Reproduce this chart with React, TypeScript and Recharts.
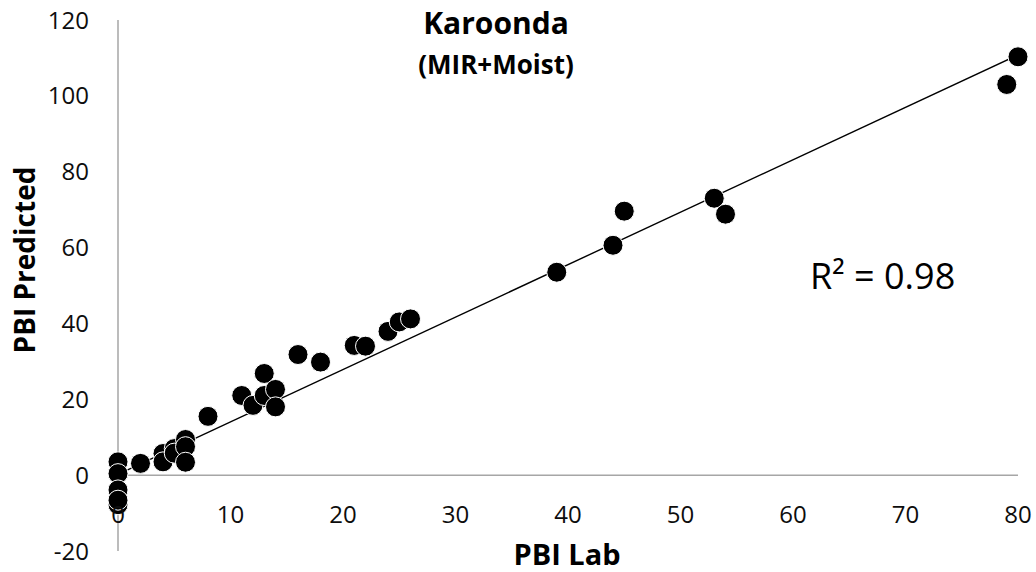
import React from "react"
import { ScatterChart, Scatter, XAxis, YAxis, ReferenceLine } from "recharts"

// PBI measured in the lab vs PBI predicted (MIR + moisture model)
const labPbi = [0, 0, 0, 0, 0, 2, 4, 4, 5, 5, 6, 6, 6, 8, 11, 12, 13, 13, 14, 14, 16, 18, 21, 22, 24, 25, 26, 39, 44, 45, 53, 54, 79, 80]
const predictedPbi = [3.5, 0.4, -3.9, -7.8, -6.6, 3.1, 5.7, 3.5, 7, 5.8, 9.4, 7.5, 3.4, 15.5, 21, 18.4, 21, 26.8, 22.6, 18, 31.8, 29.8, 34.2, 34, 37.9, 40.4, 41.2, 53.5, 60.6, 69.6, 73, 68.8, 103, 110.3]

// fitted trend line, read at both ends of the data range
const trendX = [0, 80]
const trendY = [0.2, 110.8]

const xTicks = [0, 10, 20, 30, 40, 50, 60, 70, 80]
const yTicks = [-20, 0, 20, 40, 60, 80, 100, 120]

const FONT = "'Open Sans', sans-serif"
const AXIS_GREY = "#a6a6a6"

const points = labPbi.map((x, i) => ({ x, y: predictedPbi[i] }))
const trend = trendX.map((x, i) => ({ x, y: trendY[i] }))

const Dot = (props: any) => (
	<circle cx={props.cx} cy={props.cy} r={10} fill="#000" stroke="#fff" strokeWidth={1} />
)

const App: React.FC = () => {
	return (
		<div style={{ position: "absolute", left: 0, top: 0, width: 1036, height: 572, background: "#fff" }}>
			<ScatterChart width={1036} height={572} margin={{ top: 20, right: 18, bottom: 0, left: 0 }}>
				<XAxis
					type="number"
					dataKey="x"
					domain={[0, 80]}
					ticks={xTicks}
					axisLine={false}
					tickLine={false}
					height={21}
					tick={{ fill: "#0d0d0d", fontSize: 24, fontFamily: FONT, dy: -53 }}
				/>
				<YAxis
					type="number"
					dataKey="y"
					domain={[-20, 120]}
					ticks={yTicks}
					width={118}
					tickLine={false}
					tickMargin={23}
					axisLine={{ stroke: AXIS_GREY, strokeWidth: 1.5 }}
					tick={{ fill: "#0d0d0d", fontSize: 24, fontFamily: FONT }}
				/>
				<ReferenceLine y={0} stroke={AXIS_GREY} strokeWidth={1.5} />
				<Scatter
					data={trend}
					line={{ stroke: "#000", strokeWidth: 1.4 }}
					shape={() => <g />}
					isAnimationActive={false}
				/>
				<Scatter data={points} shape={Dot} isAnimationActive={false} />
			</ScatterChart>
			<svg
				width={1036}
				height={572}
				style={{ position: "absolute", left: 0, top: 0, pointerEvents: "none" }}
				fontFamily={FONT}
			>
				<text x={496} y={34} textAnchor="middle" fontSize={30} fontWeight="bold" fill="#000">
					Karoonda
				</text>
				<text x={496} y={74} textAnchor="middle" fontSize={26} fontWeight="bold" fill="#000">
					(MIR+Moist)
				</text>
				<text x={567} y={565} textAnchor="middle" fontSize={29} fontWeight="bold" fill="#000">
					PBI Lab
				</text>
				<text x={35} y={260} textAnchor="middle" fontSize={28} fontWeight="bold" fill="#000" transform="rotate(-90, 35, 260)">
					PBI Predicted
				</text>
				<text x={810} y={289} fontSize={36} fill="#000">
					R² = 0.98
				</text>
			</svg>
		</div>
	)
}

export default App
